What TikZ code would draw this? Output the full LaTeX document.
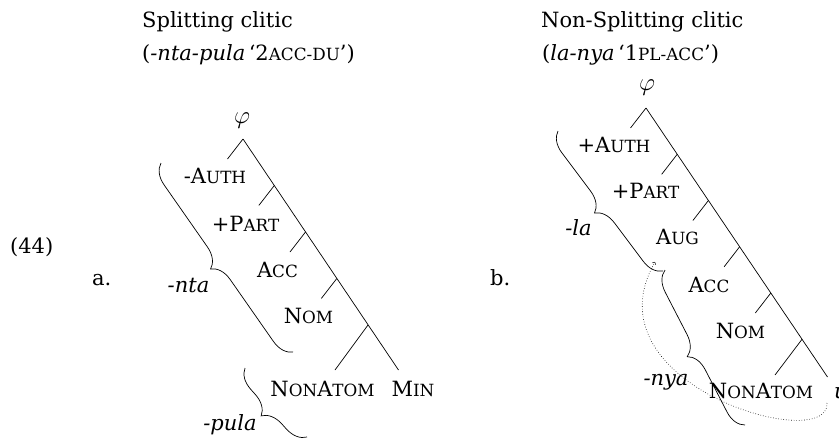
\documentclass[tikz,border=0pt]{standalone}
\usepackage{fontspec}
\setmainfont{DejaVu Serif}
\usetikzlibrary{decorations.pathreplacing}
% faked small capitals: upper-case letters set at a reduced size
\newcommand{\smc}[1]{{\fontsize{16.8}{20}\selectfont #1}}

\begin{document}
\begin{tikzpicture}[x=1pt,y=-1pt,
  every node/.style={inner sep=0pt, font=\fontsize{21}{25}\selectfont},
  lbl/.style={anchor=base},
  ttl/.style={anchor=base west},
  phinode/.style={font=\fontsize{27}{30}\selectfont},
  branch/.style={line width=0.7pt},
  bracebar/.style={decorate, decoration={brace, amplitude=20pt}, line width=0.7pt},
  moveline/.style={dotted, line width=0.6pt, ->}]
\useasboundingbox (0,0) rectangle (839,442);

% headings
\node[ttl] (ta1) at (142,27) {Splitting clitic};
\node[ttl] (ta2) at (142,60) {(\textit{-nta-pula}\,‘2\smc{ACC-DU}’)};
\node[ttl] (tb1) at (541,27) {Non-Splitting clitic};
\node[ttl] (tb2) at (542,60) {(\textit{la-nya}\,‘1\smc{PL-ACC}’)};

\node[ttl] (ex) at (10,253) {(44)};
\node[ttl] (la) at (92,285) {a.};
\node[ttl] (lb) at (490,285) {b.};

% ---------- tree (a) ----------
\node[phinode] (phia) at (242,121) {$\varphi$};
\coordinate (a0) at (243,139);
\coordinate (a1) at (274.3,185.5);
\coordinate (a2) at (305.5,232);
\coordinate (a3) at (336.8,278.5);
\coordinate (a4) at (368,325);
\coordinate (a5) at (398.5,370);
\coordinate (s0) at (227.5,159);
\coordinate (s1) at (258.8,205.5);
\coordinate (s2) at (290,252);
\coordinate (s3) at (321.3,298.5);
\coordinate (s4) at (335,370);
\draw[branch] (a0) -- (a5);
\foreach \j in {0,...,4} \draw[branch] (a\j) -- (s\j);

\node[lbl] (auth) at (215,183) {-A\smc{UTH}};
\node[lbl] (part) at (245.5,231) {+P\smc{ART}};
\node[lbl] (acc) at (277.5,277) {A\smc{CC}};
\node[lbl] (nom) at (308.5,323) {N\smc{OM}};
\node[lbl] (nonat) at (322.5,396) {N\smc{ON}A\smc{TOM}};
\node[lbl] (min) at (413,396) {M\smc{IN}};

\coordinate (ntaTop) at (161,163);
\coordinate (ntaBot) at (293,352);
\coordinate (pulaTop) at (245,368);
\coordinate (pulaBot) at (307,437);
\draw[bracebar] (ntaBot) -- (ntaTop);
\draw[bracebar] (pulaBot) -- (pulaTop);
\node[lbl] (nta) at (188.5,292) {\textit{-nta}};
\node[lbl] (pula) at (230,430) {\textit{-pula}};

% ---------- tree (b) ----------
\node[phinode] (phib) at (647,88) {$\varphi$};
\coordinate (b0) at (646,108);
\coordinate (b1) at (677.2,154.3);
\coordinate (b2) at (708.4,200.5);
\coordinate (b3) at (739.6,246.8);
\coordinate (b4) at (770.8,293);
\coordinate (b5) at (802,339.3);
\coordinate (b6) at (827.5,377);
\coordinate (r0) at (630.5,128);
\coordinate (r1) at (661.7,174.3);
\coordinate (r2) at (692.9,220.5);
\coordinate (r3) at (724.1,266.8);
\coordinate (r4) at (755.3,313);
\coordinate (r5) at (775,375);
\draw[branch] (b0) -- (b6);
\foreach \j in {0,...,5} \draw[branch] (b\j) -- (r\j);

\node[lbl] (pauth) at (614,152) {+A\smc{UTH}};
\node[lbl] (ppart) at (645.5,198) {+P\smc{ART}};
\node[lbl] (aug) at (677.5,244) {A\smc{UG}};
\node[lbl] (accb) at (709,292) {A\smc{CC}};
\node[lbl] (nomb) at (740.5,338) {N\smc{OM}};
\node[lbl] (nonatb) at (761,398) {N\smc{ON}A\smc{TOM}};
\node[anchor=base west] (ub) at (834,398) {\textit{u}};

\coordinate (laTop) at (558,131);
\coordinate (laBot) at (663,271);
\coordinate (nyaTop) at (665,270);
\coordinate (nyaBot) at (745,425);
\draw[bracebar] (laBot) -- (laTop);
\draw[bracebar] (nyaBot) -- (nyaTop);
\node[lbl] (lalbl) at (578.5,235) {\textit{-la}};
\node[lbl] (nyalbl) at (666,385) {\textit{-nya}};

% movement arrow
\coordinate (mvfrom) at (827,403);
\coordinate (mvto) at (655,262);
\draw[moveline] (mvfrom) .. controls (830,455) and (585,385) .. (mvto);
\end{tikzpicture}
\end{document}
